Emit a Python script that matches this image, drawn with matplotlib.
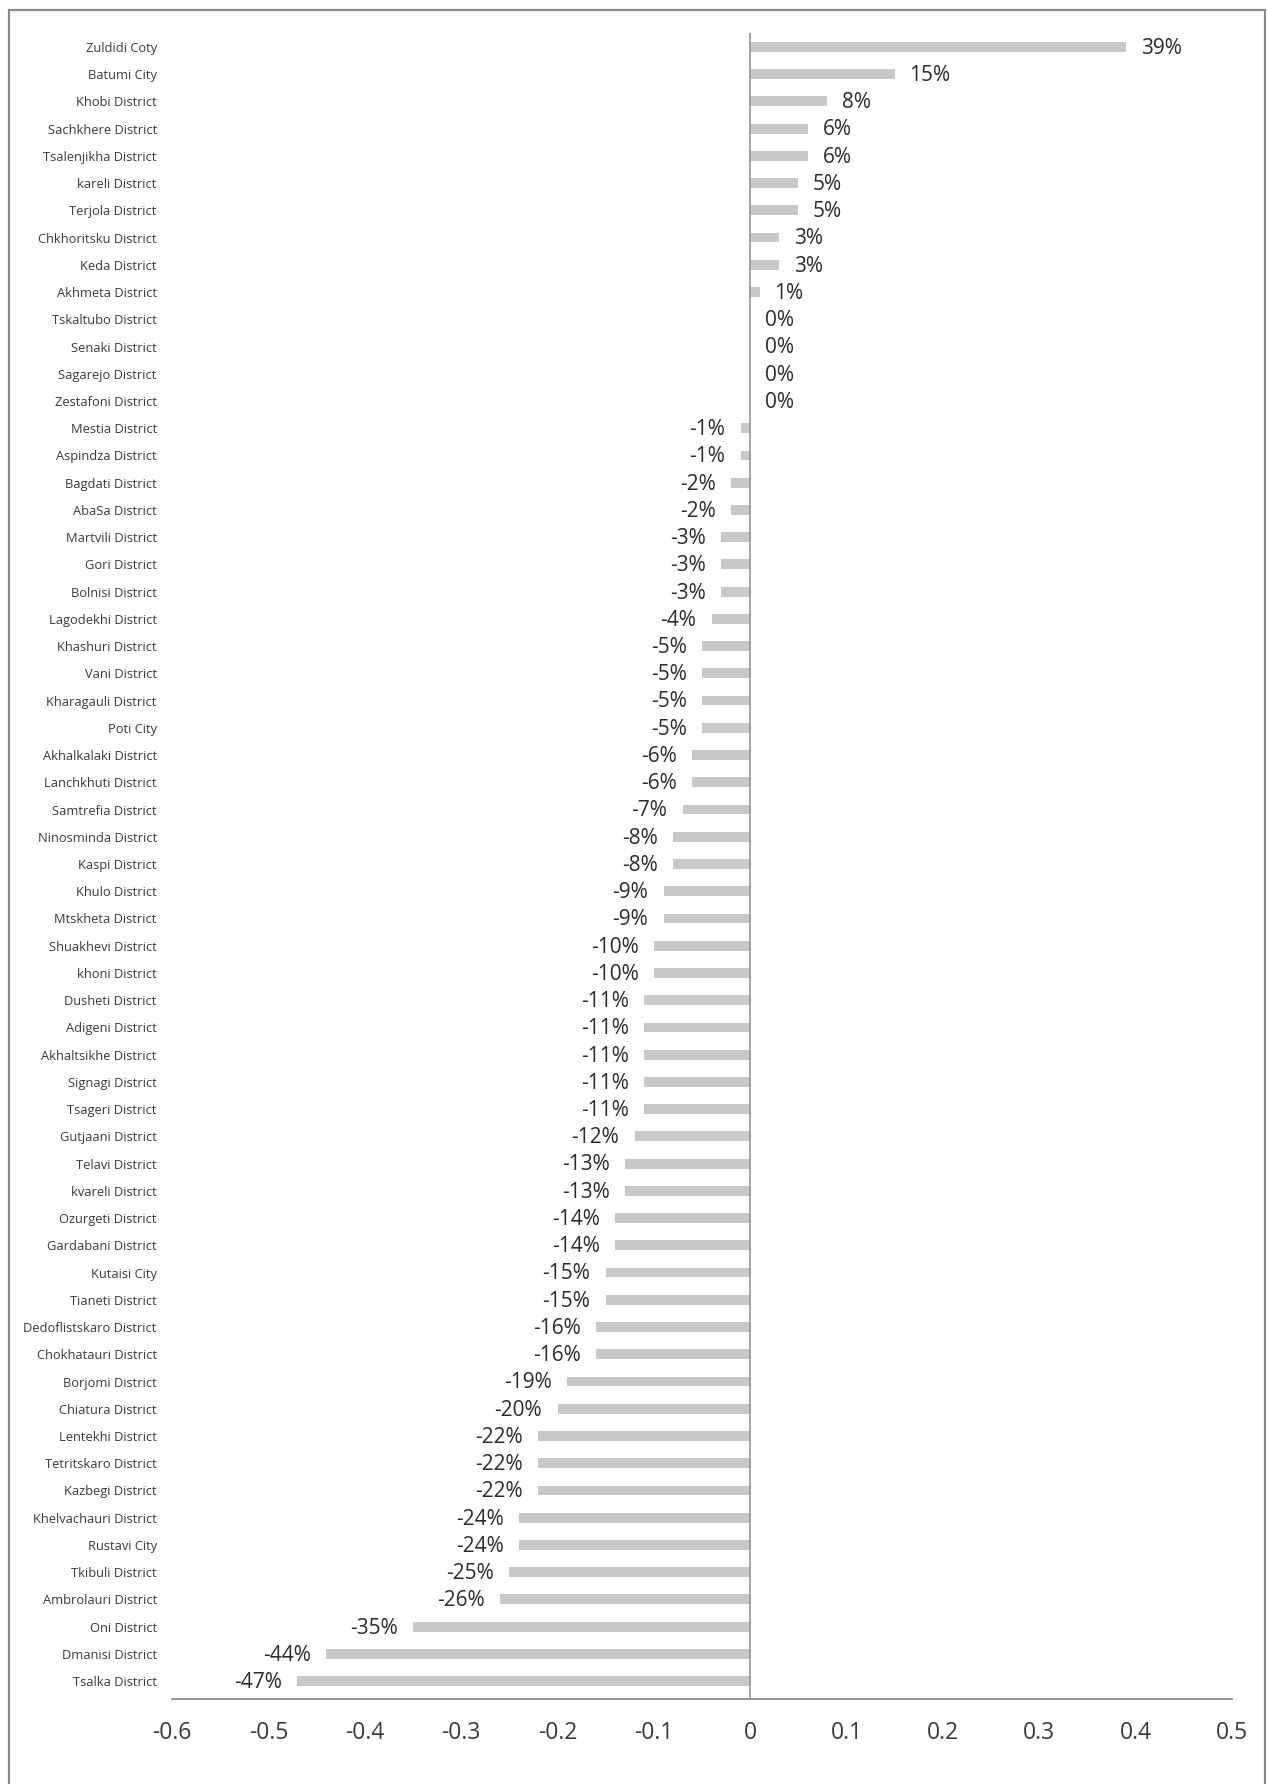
import numpy as np
import matplotlib.pyplot as plt
from matplotlib.patches import Rectangle

# District population change, sorted from largest gain to largest loss
districts = [
    'Zuldidi Coty', 'Batumi City', 'Khobi District', 'Sachkhere District',
    'Tsalenjikha District', 'kareli District', 'Terjola District',
    'Chkhoritsku District', 'Keda District', 'Akhmeta District',
    'Tskaltubo District', 'Senaki District', 'Sagarejo District',
    'Zestafoni District', 'Mestia District', 'Aspindza District',
    'Bagdati District', 'AbaSa District', 'Martvili District', 'Gori District',
    'Bolnisi District', 'Lagodekhi District', 'Khashuri District',
    'Vani District', 'Kharagauli District', 'Poti City',
    'Akhalkalaki District', 'Lanchkhuti District', 'Samtrefia District',
    'Ninosminda District', 'Kaspi District', 'Khulo District',
    'Mtskheta District', 'Shuakhevi District', 'khoni District',
    'Dusheti District', 'Adigeni District', 'Akhaltsikhe District',
    'Signagi District', 'Tsageri District', 'Gutjaani District',
    'Telavi District', 'kvareli District', 'Ozurgeti District',
    'Gardabani District', 'Kutaisi City', 'Tianeti District',
    'Dedoflistskaro District', 'Chokhatauri District', 'Borjomi District',
    'Chiatura District', 'Lentekhi District', 'Tetritskaro District',
    'Kazbegi District', 'Khelvachauri District', 'Rustavi City',
    'Tkibuli District', 'Ambrolauri District', 'Oni District',
    'Dmanisi District', 'Tsalka District',
]
change_pct = [
    39, 15, 8, 6, 6, 5, 5, 3, 3, 1,
    0, 0, 0, 0, -1, -1, -2, -2, -3, -3,
    -3, -4, -5, -5, -5, -5, -6, -6, -7, -8,
    -8, -9, -9, -10, -10, -11, -11, -11, -11, -11,
    -12, -13, -13, -14, -14, -15, -15, -16, -16, -19,
    -20, -22, -22, -22, -24, -24, -25, -26, -35, -44,
    -47,
]
x_ticks = [-0.6, -0.5, -0.4, -0.3, -0.2, -0.1, 0, 0.1, 0.2, 0.3, 0.4, 0.5]
x_tick_labels = ['-0.6', '-0.5', '-0.4', '-0.3', '-0.2', '-0.1', '0',
                 '0.1', '0.2', '0.3', '0.4', '0.5']

plt.rcParams['font.family'] = ['Open Sans', 'DejaVu Sans']

values = np.array(change_pct) / 100.0
ypos = np.arange(len(districts))

fig = plt.figure(figsize=(12.67, 17.84), dpi=100)
ax = fig.add_axes([0.1358, 0.0476, 0.8366, 0.9339])

ax.barh(ypos, values, height=0.36, color='#c8c8c8', zorder=2)

for y, v, p in zip(ypos, values, change_pct):
    if v >= 0:
        ax.annotate(f'{p}%', (v, y), xytext=(10.5, -1), textcoords='offset points',
                    ha='left', va='center', fontsize=15, color='#2b2b2b')
    else:
        ax.annotate(f'{p}%', (v, y), xytext=(-11, -1), textcoords='offset points',
                    ha='right', va='center', fontsize=15, color='#2b2b2b')

ax.set_xlim(-0.6, 0.5)
ax.set_ylim(60.66, -0.51)
ax.set_yticks(ypos)
ax.set_yticklabels(districts, fontsize=9.3, color='#3a3a3a')
ax.set_xticks(x_ticks)
ax.set_xticklabels(x_tick_labels, fontsize=16.5, color='#3a3a3a')
ax.tick_params(axis='y', length=0, pad=11)
ax.tick_params(axis='x', length=0, pad=16)

for side in ['top', 'right', 'left']:
    ax.spines[side].set_visible(False)
ax.spines['bottom'].set_color('#8c8c8c')
ax.spines['bottom'].set_linewidth(1.3)
ax.axvline(0, color='#8c8c8c', linewidth=1.1, zorder=3)

# outer frame around the whole chart
fig.patches.append(Rectangle((9 / 1267, -0.01), 1256 / 1267, 1 - 10 / 1784 + 0.01,
                             transform=fig.transFigure, fill=False,
                             edgecolor='#8a8a8a', linewidth=1.6))

fig.savefig('out.png', dpi=100)
